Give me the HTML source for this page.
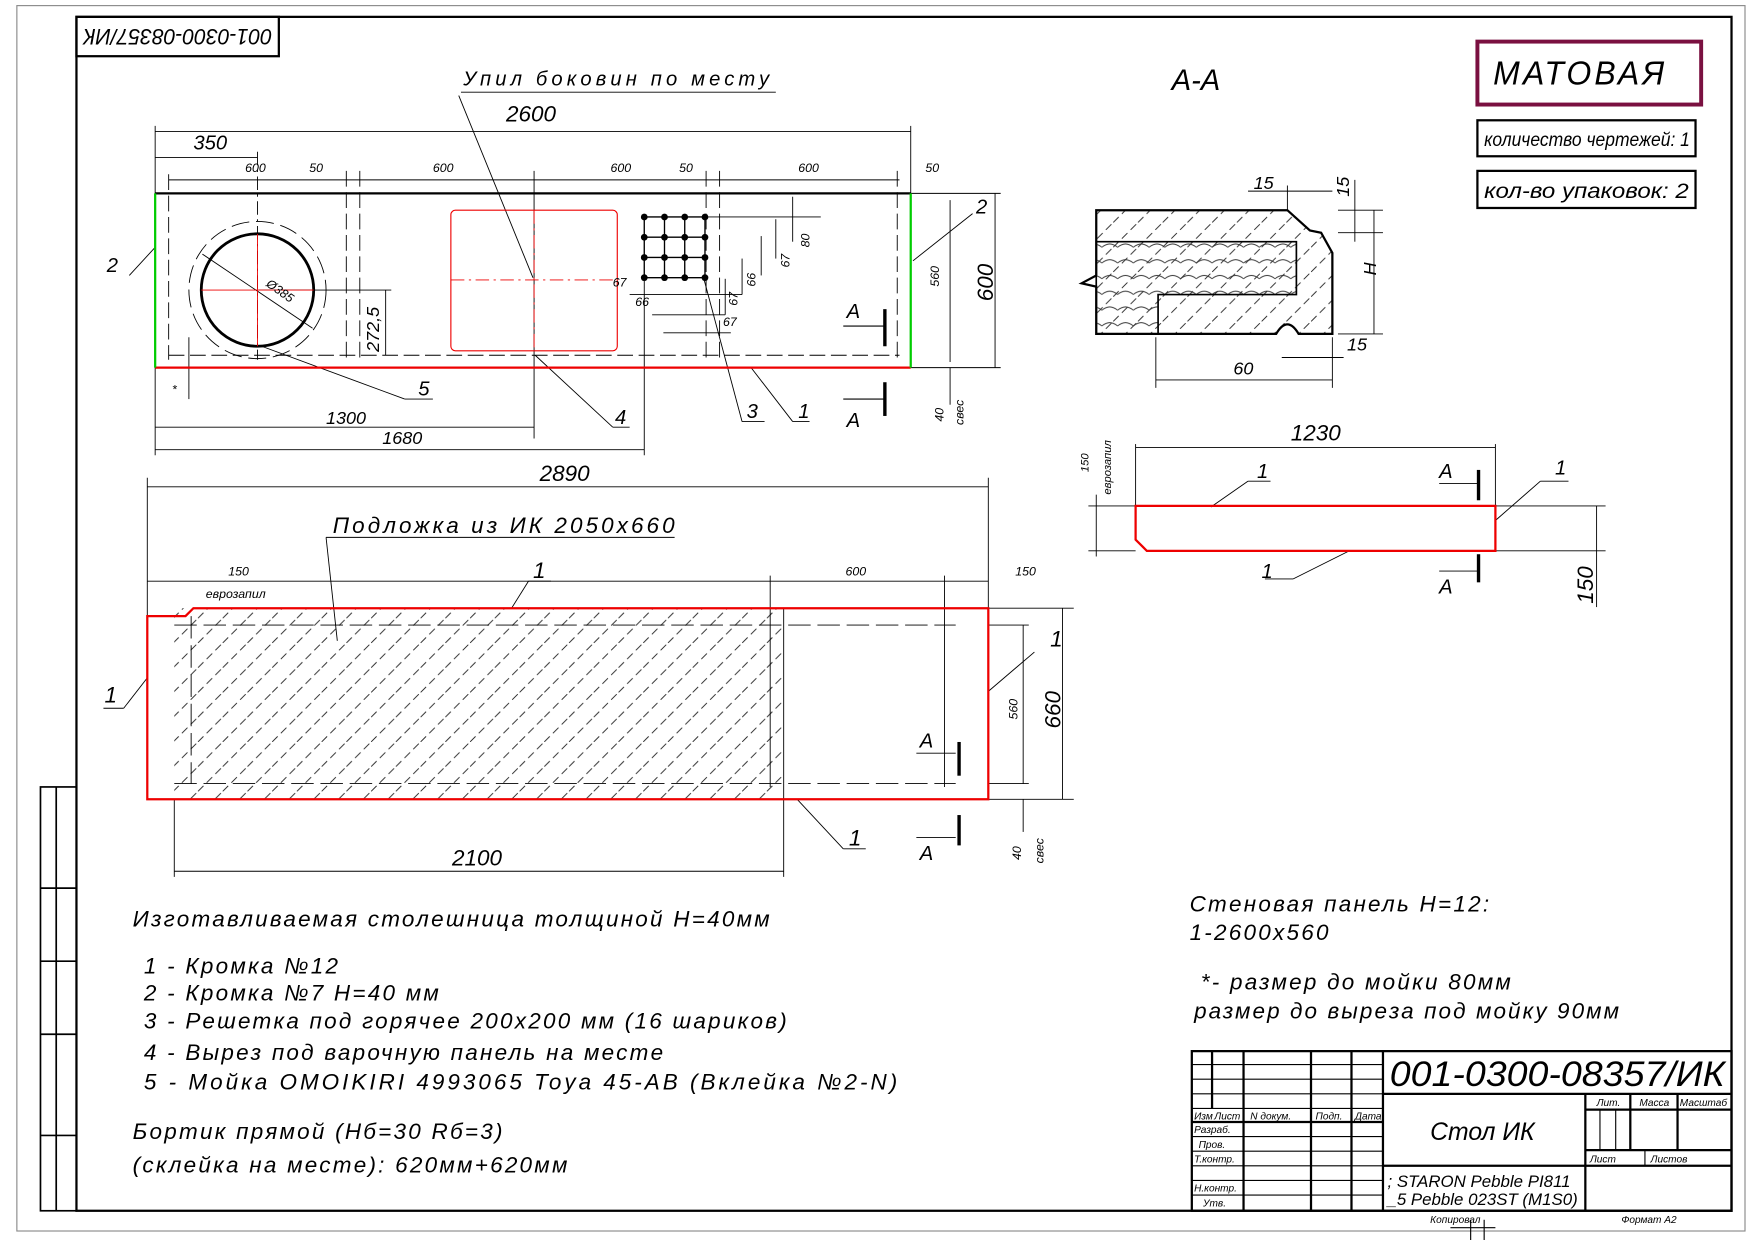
<!DOCTYPE html>
<html><head><meta charset="utf-8"><style>
html,body{margin:0;padding:0;background:#fff}
svg{display:block}
text{font-family:"Liberation Sans","DejaVu Sans",sans-serif;font-style:italic;fill:#000}
</style></head><body>
<svg width="1754" height="1240" viewBox="0 0 1560 1103" preserveAspectRatio="none" xmlns="http://www.w3.org/2000/svg">
<defs>
<pattern id="h" width="22" height="22" patternUnits="userSpaceOnUse">
<line x1="0" y1="22" x2="22" y2="0" stroke="#222" stroke-width="0.8" stroke-dasharray="7 4"/>
</pattern>
<pattern id="w" width="14" height="14" patternUnits="userSpaceOnUse">
<path d="M0 10 Q7 4 14 10" stroke="#333" fill="none" stroke-width="0.8"/>
</pattern>
</defs>
<rect width="1560" height="1103" fill="#fff"/>
<rect x="15" y="5" width="1537" height="1090" fill="none" stroke="#888" stroke-width="1"/>
<rect x="68" y="15" width="1472" height="1062" fill="none" stroke="#000" stroke-width="2"/>
<g stroke="#000" stroke-width="1.5" fill="none">
<rect x="36" y="700" width="32" height="377"/>
<line x1="50" y1="700" x2="50" y2="1077"/>
<line x1="36" y1="790" x2="68" y2="790"/><line x1="36" y1="855" x2="68" y2="855"/>
<line x1="36" y1="920" x2="68" y2="920"/><line x1="36" y1="1010" x2="68" y2="1010"/>
</g>
<rect x="68" y="15" width="180" height="35" fill="none" stroke="#000" stroke-width="2"/>
<text transform="rotate(180,158,33)" x="158" y="40" text-anchor="middle" font-size="20" textLength="168" lengthAdjust="spacingAndGlyphs">001-0300-08357/ИК</text>
<rect x="1314" y="37" width="199" height="56" fill="none" stroke="#7a1040" stroke-width="3.5"/>
<text x="1328" y="75" font-size="30" letter-spacing="3" textLength="155" lengthAdjust="spacingAndGlyphs">МАТОВАЯ</text>
<rect x="1314" y="107" width="194" height="32" fill="none" stroke="#000" stroke-width="2"/>
<text x="1320" y="130" font-size="17" textLength="183" lengthAdjust="spacingAndGlyphs">количество чертежей: 1</text>
<rect x="1314" y="152" width="194" height="33" fill="none" stroke="#000" stroke-width="2"/>
<text x="1320" y="176" font-size="19" textLength="182" lengthAdjust="spacingAndGlyphs">кол-во упаковок: 2</text>
<text x="1042" y="80" font-size="26">А-А</text>

<g stroke="#000" stroke-width="0.8" fill="none">
<line x1="138" y1="112" x2="138" y2="405"/><line x1="810" y1="112" x2="810" y2="172"/>
<line x1="138" y1="117" x2="810" y2="117"/>
<line x1="138" y1="140" x2="229" y2="140"/><line x1="229" y1="135" x2="229" y2="320" stroke-dasharray="12 4 2 4"/>
<line x1="150" y1="160" x2="800" y2="160"/>
<line x1="150" y1="155" x2="150" y2="320" stroke-dasharray="14 5"/>
<line x1="308" y1="152" x2="308" y2="320" stroke-dasharray="14 5"/><line x1="320" y1="152" x2="320" y2="320" stroke-dasharray="14 5"/>
<line x1="475" y1="152" x2="475" y2="390"/>
<line x1="628" y1="152" x2="628" y2="320" stroke-dasharray="14 5"/><line x1="640" y1="152" x2="640" y2="320" stroke-dasharray="14 5"/>
<line x1="798" y1="152" x2="798" y2="320" stroke-dasharray="14 5"/>
<line x1="150" y1="316" x2="800" y2="316" stroke-dasharray="14 5"/>
<line x1="810" y1="172" x2="890" y2="172"/><line x1="810" y1="327" x2="890" y2="327"/>
<line x1="885" y1="172" x2="885" y2="327"/><line x1="845" y1="178" x2="845" y2="322"/>
<line x1="845" y1="327" x2="845" y2="360"/>
<line x1="138" y1="380" x2="475" y2="380"/><line x1="138" y1="400" x2="573" y2="400"/>
<line x1="573" y1="247" x2="573" y2="405"/>
<line x1="168" y1="300" x2="168" y2="355"/>
<line x1="230" y1="258" x2="348" y2="258"/><line x1="343" y1="258" x2="343" y2="316"/>
<circle cx="229" cy="258" r="61" stroke-dasharray="16 6"/>
<line x1="180" y1="226" x2="278" y2="292"/>
<line x1="573" y1="193" x2="730" y2="193"/>
<line x1="705" y1="175" x2="705" y2="215"/><line x1="690" y1="195" x2="690" y2="230"/><line x1="677" y1="210" x2="677" y2="245"/>
<line x1="660" y1="230" x2="660" y2="262"/><line x1="645" y1="248" x2="645" y2="280"/>
<line x1="560" y1="262" x2="660" y2="262"/><line x1="580" y1="280" x2="645" y2="280"/>
<line x1="590" y1="296" x2="650" y2="296"/>
<line x1="408" y1="85" x2="474" y2="247"/><line x1="410" y1="82" x2="690" y2="82"/>
<line x1="138" y1="220" x2="115" y2="245"/><line x1="812" y1="232" x2="865" y2="190"/>
<line x1="230" y1="307" x2="360" y2="355"/><line x1="360" y1="355" x2="385" y2="355"/>
<line x1="476" y1="316" x2="545" y2="380"/><line x1="545" y1="380" x2="560" y2="380"/>
<line x1="626" y1="248" x2="660" y2="375"/><line x1="660" y1="375" x2="680" y2="375"/>
<line x1="668" y1="327" x2="705" y2="375"/><line x1="705" y1="375" x2="720" y2="375"/>
</g>
<line x1="138" y1="172" x2="810" y2="172" stroke="#000" stroke-width="2"/>
<line x1="138" y1="327" x2="810" y2="327" stroke="#e00" stroke-width="2"/>
<line x1="138" y1="172" x2="138" y2="327" stroke="#0c0" stroke-width="2"/>
<line x1="810" y1="172" x2="810" y2="327" stroke="#0c0" stroke-width="2"/>
<circle cx="229" cy="258" r="50" fill="none" stroke="#000" stroke-width="2.5"/>
<line x1="229" y1="208" x2="229" y2="308" stroke="#e00" stroke-width="0.8"/><line x1="179" y1="258" x2="279" y2="258" stroke="#e00" stroke-width="0.8"/>
<rect x="401" y="187" width="148" height="125" rx="4" fill="none" stroke="#e00" stroke-width="1"/>
<line x1="401" y1="249" x2="549" y2="249" stroke="#e00" stroke-width="0.8" stroke-dasharray="12 4 2 4"/>
<line x1="475" y1="187" x2="475" y2="312" stroke="#e00" stroke-width="0.8" stroke-dasharray="12 4 2 4"/>
<g stroke="#000" stroke-width="1.2">
<line x1="573" y1="193" x2="627" y2="193"/><line x1="573" y1="211" x2="627" y2="211"/><line x1="573" y1="229" x2="627" y2="229"/><line x1="573" y1="247" x2="627" y2="247"/>
<line x1="573" y1="193" x2="573" y2="247"/><line x1="591" y1="193" x2="591" y2="247"/><line x1="609" y1="193" x2="609" y2="247"/><line x1="627" y1="193" x2="627" y2="247"/>
</g>
<g fill="#000">
<circle cx="573" cy="193" r="3"/><circle cx="591" cy="193" r="3"/><circle cx="609" cy="193" r="3"/><circle cx="627" cy="193" r="3"/>
<circle cx="573" cy="211" r="3"/><circle cx="591" cy="211" r="3"/><circle cx="609" cy="211" r="3"/><circle cx="627" cy="211" r="3"/>
<circle cx="573" cy="229" r="3"/><circle cx="591" cy="229" r="3"/><circle cx="609" cy="229" r="3"/><circle cx="627" cy="229" r="3"/>
<circle cx="573" cy="247" r="3"/><circle cx="591" cy="247" r="3"/><circle cx="609" cy="247" r="3"/><circle cx="627" cy="247" r="3"/>
</g>
<g stroke="#000" stroke-width="3"><line x1="787" y1="275" x2="787" y2="308"/><line x1="787" y1="340" x2="787" y2="370"/></g>
<g stroke="#000" stroke-width="1"><line x1="750" y1="290" x2="787" y2="290"/><line x1="750" y1="355" x2="787" y2="355"/></g>
<g font-size="18">
<text x="412" y="76" textLength="272" lengthAdjust="spacing">Упил боковин по месту</text>
<text x="450" y="108" font-size="20">2600</text>
<text x="172" y="133">350</text>
<text x="95" y="242">2</text><text x="868" y="190">2</text>
<text x="372" y="352">5</text><text x="547" y="377">4</text><text x="664" y="372">3</text><text x="710" y="372">1</text>
<text x="290" y="377" font-size="16">1300</text><text x="340" y="395" font-size="16">1680</text>
<text x="753" y="283">А</text><text x="753" y="380">А</text>
</g>
<g font-size="11">
<text x="218" y="153">600</text><text x="275" y="153">50</text><text x="385" y="153">600</text><text x="543" y="153">600</text><text x="604" y="153">50</text><text x="710" y="153">600</text><text x="823" y="153">50</text>
<text x="545" y="255">67</text><text x="565" y="272">66</text><text x="643" y="290">67</text>
<text x="153" y="350">*</text>
<text transform="translate(720,220) rotate(-90)">80</text><text transform="translate(702,238) rotate(-90)">67</text><text transform="translate(672,255) rotate(-90)">66</text><text transform="translate(656,272) rotate(-90)">67</text>
<text transform="translate(835,255) rotate(-90)">560</text>
<text transform="translate(839,375) rotate(-90)">40</text><text transform="translate(857,378) rotate(-90)">свес</text>
<text transform="translate(236,254) rotate(35)">Ø385</text>
</g>
<text transform="translate(883,268) rotate(-90)" font-size="20">600</text>
<text transform="translate(337,313) rotate(-90)" font-size="16">272,5</text>

<path d="M975 187 L1145 187 L1165 205 L1175 207 L1185 225 L1185 297 L1155 297 Q1145 280 1135 297 L975 297 L975 255 L962 252 L975 245 Z" fill="url(#h)" stroke="#000" stroke-width="2"/>
<path d="M975 215 L1153 215 L1153 262 L1030 262 L1030 297 L975 297 Z" fill="url(#w)" stroke="#000" stroke-width="1.5"/>
<g stroke="#000" stroke-width="0.8" fill="none">
<line x1="1110" y1="170" x2="1185" y2="170"/><line x1="1145" y1="165" x2="1145" y2="187"/>
<line x1="1190" y1="187" x2="1230" y2="187"/><line x1="1190" y1="207" x2="1230" y2="207"/><line x1="1190" y1="297" x2="1230" y2="297"/>
<line x1="1205" y1="160" x2="1205" y2="215"/><line x1="1222" y1="187" x2="1222" y2="297"/>
<line x1="1140" y1="318" x2="1195" y2="318"/><line x1="1185" y1="300" x2="1185" y2="345"/>
<line x1="1028" y1="300" x2="1028" y2="345"/><line x1="1028" y1="338" x2="1185" y2="338"/>
</g>
<g font-size="16"><text x="1115" y="168">15</text><text x="1198" y="312">15</text><text x="1097" y="333">60</text>
<text transform="translate(1200,175) rotate(-90)">15</text><text transform="translate(1224,245) rotate(-90)">Н</text></g>

<g stroke="#000" stroke-width="0.8" fill="none">
<line x1="1010" y1="395" x2="1010" y2="450"/><line x1="1330" y1="395" x2="1330" y2="450"/><line x1="1010" y1="398" x2="1330" y2="398"/>
<line x1="968" y1="450" x2="1010" y2="450"/><line x1="968" y1="490" x2="1010" y2="490"/><line x1="975" y1="440" x2="975" y2="495"/>
<line x1="1330" y1="450" x2="1428" y2="450"/><line x1="1330" y1="490" x2="1428" y2="490"/><line x1="1420" y1="450" x2="1420" y2="540"/>
<line x1="1077" y1="451" x2="1110" y2="428"/><line x1="1110" y1="428" x2="1130" y2="428"/>
<line x1="1200" y1="490" x2="1150" y2="515"/><line x1="1125" y1="515" x2="1150" y2="515"/>
<line x1="1330" y1="463" x2="1370" y2="428"/><line x1="1370" y1="428" x2="1395" y2="428"/>
<line x1="1280" y1="430" x2="1315" y2="430"/><line x1="1280" y1="508" x2="1315" y2="508"/>
</g>
<path d="M1010 450 L1330 450 L1330 490 L1020 490 L1010 480 Z" fill="none" stroke="#e00" stroke-width="2"/>
<g stroke="#000" stroke-width="3"><line x1="1315" y1="418" x2="1315" y2="445"/><line x1="1315" y1="493" x2="1315" y2="518"/></g>
<g font-size="18"><text x="1148" y="392" font-size="20">1230</text><text x="1118" y="425">1</text><text x="1383" y="422">1</text><text x="1122" y="514">1</text>
<text x="1280" y="425">А</text><text x="1280" y="528">А</text>
<text transform="translate(1417,537) rotate(-90)" font-size="20">150</text></g>
<g font-size="10"><text transform="translate(968,420) rotate(-90)">150</text><text transform="translate(988,440) rotate(-90)">еврозапил</text></g>

<rect x="155" y="541" width="542" height="170" fill="url(#h)"/>
<g stroke="#000" stroke-width="0.8" fill="none">
<line x1="131" y1="425" x2="131" y2="548"/><line x1="879" y1="425" x2="879" y2="541"/><line x1="131" y1="433" x2="879" y2="433"/>
<line x1="131" y1="517" x2="879" y2="517"/><line x1="685" y1="512" x2="685" y2="700"/><line x1="840" y1="512" x2="840" y2="700"/>
<line x1="879" y1="541" x2="955" y2="541"/><line x1="879" y1="711" x2="955" y2="711"/><line x1="945" y1="541" x2="945" y2="711"/>
<line x1="879" y1="556" x2="915" y2="556"/><line x1="879" y1="697" x2="915" y2="697"/><line x1="910" y1="556" x2="910" y2="697"/>
<line x1="910" y1="711" x2="910" y2="740"/>
<line x1="155" y1="711" x2="155" y2="780"/><line x1="697" y1="711" x2="697" y2="780"/><line x1="155" y1="775" x2="697" y2="775"/>
<line x1="155" y1="556" x2="850" y2="556" stroke-dasharray="20 6"/><line x1="155" y1="697" x2="850" y2="697" stroke-dasharray="20 6"/>
<line x1="170" y1="548" x2="170" y2="697" stroke-dasharray="20 6"/><line x1="697" y1="541" x2="697" y2="711"/>
<line x1="290" y1="478" x2="300" y2="570"/><line x1="290" y1="478" x2="600" y2="478"/>
<line x1="455" y1="541" x2="470" y2="517"/><line x1="470" y1="517" x2="490" y2="517"/>
<line x1="131" y1="603" x2="110" y2="630"/><line x1="92" y1="630" x2="110" y2="630"/>
<line x1="879" y1="615" x2="920" y2="580"/>
<line x1="709" y1="711" x2="750" y2="755"/><line x1="750" y1="755" x2="770" y2="755"/>
<line x1="815" y1="670" x2="850" y2="670"/><line x1="815" y1="745" x2="850" y2="745"/>
</g>
<path d="M131 711 L131 548 L165 548 L172 541 L879 541 L879 711 Z" fill="none" stroke="#e00" stroke-width="2"/>
<g stroke="#000" stroke-width="3"><line x1="853" y1="660" x2="853" y2="690"/><line x1="853" y1="725" x2="853" y2="752"/></g>
<g font-size="20">
<text x="480" y="428">2890</text>
<text x="296" y="474" textLength="304" lengthAdjust="spacing">Подложка из ИК 2050х660</text>
<text x="474" y="514">1</text><text x="93" y="625">1</text><text x="934" y="575">1</text><text x="755" y="752">1</text>
<text x="402" y="770">2100</text>
<text x="818" y="665" font-size="18">А</text><text x="818" y="765" font-size="18">А</text>
<text transform="translate(943,648) rotate(-90)">660</text>
</g>
<g font-size="11"><text x="203" y="512">150</text><text x="183" y="532">еврозапил</text><text x="752" y="512">600</text><text x="903" y="512">150</text>
<text transform="translate(905,640) rotate(-90)">560</text><text transform="translate(908,765) rotate(-90)">40</text><text transform="translate(928,768) rotate(-90)">свес</text></g>

<g font-size="20" letter-spacing="2">
<text x="118" y="824">Изготавливаемая столешница толщиной Н=40мм</text>
<text x="128" y="866">1 - Кромка №12</text>
<text x="128" y="890">2 - Кромка №7 Н=40 мм</text>
<text x="128" y="915">3 - Решетка под горячее 200х200 мм (16 шариков)</text>
<text x="128" y="943">4 - Вырез под варочную панель на месте</text>
<text x="128" y="969" textLength="672" lengthAdjust="spacing">5 - Мойка OMOIKIRI 4993065 Toya 45-AB (Вклейка №2-N)</text>
<text x="118" y="1013">Бортик прямой (Нб=30 Rб=3)</text>
<text x="118" y="1043">(склейка на месте): 620мм+620мм</text>
<text x="1058" y="811">Стеновая панель Н=12:</text>
<text x="1058" y="836">1-2600х560</text>
<text x="1068" y="880">*- размер до мойки 80мм</text>
<text x="1062" y="906" textLength="380" lengthAdjust="spacing">размер до выреза под мойку 90мм</text>
</g>

<g stroke="#000" stroke-width="2" fill="none">
<rect x="1060" y="935" width="480" height="142"/>
<line x1="1230" y1="935" x2="1230" y2="1077"/>
<line x1="1230" y1="973" x2="1540" y2="973"/>
<line x1="1230" y1="1037" x2="1540" y2="1037"/>
<line x1="1410" y1="973" x2="1410" y2="1077"/>
<line x1="1410" y1="987" x2="1540" y2="987"/><line x1="1410" y1="1023" x2="1540" y2="1023"/>
<line x1="1450" y1="973" x2="1450" y2="1023"/><line x1="1492" y1="973" x2="1492" y2="1023"/>
<line x1="1078" y1="935" x2="1078" y2="986"/><line x1="1106" y1="935" x2="1106" y2="1077"/><line x1="1166" y1="935" x2="1166" y2="1077"/><line x1="1202" y1="935" x2="1202" y2="1077"/>
<line x1="1060" y1="998" x2="1230" y2="998"/>
</g>
<g stroke="#000" stroke-width="1" fill="none">
<line x1="1060" y1="947" x2="1230" y2="947"/><line x1="1060" y1="960" x2="1230" y2="960"/><line x1="1060" y1="973" x2="1230" y2="973"/><line x1="1060" y1="986" x2="1230" y2="986"/>
<line x1="1060" y1="1011" x2="1230" y2="1011"/><line x1="1060" y1="1024" x2="1230" y2="1024"/><line x1="1060" y1="1037" x2="1230" y2="1037"/><line x1="1060" y1="1050" x2="1230" y2="1050"/><line x1="1060" y1="1063" x2="1230" y2="1063"/>
<line x1="1423" y1="987" x2="1423" y2="1023"/><line x1="1437" y1="987" x2="1437" y2="1023"/><line x1="1463" y1="1023" x2="1463" y2="1037"/>
<line x1="1290" y1="1092" x2="1330" y2="1092"/><line x1="1308" y1="1085" x2="1308" y2="1103"/><line x1="1320" y1="1085" x2="1320" y2="1103"/>
</g>
<text x="1236" y="966" font-size="31" textLength="298" lengthAdjust="spacingAndGlyphs">001-0300-08357/ИК</text>
<text x="1272" y="1014" font-size="22">Стол ИК</text>
<text x="1234" y="1056" font-size="15">; STARON Pebble PI811</text>
<text x="1234" y="1072" font-size="15">_5 Pebble 023ST (M1S0)</text>
<g font-size="9"><text x="1420" y="984">Лит.</text><text x="1458" y="984">Масса</text><text x="1494" y="984">Масштаб</text>
<text x="1414" y="1034">Лист</text><text x="1468" y="1034">Листов</text>
<text x="1062" y="996">Изм</text><text x="1080" y="996">Лист</text><text x="1112" y="996">N докум.</text><text x="1170" y="996">Подп.</text><text x="1205" y="996">Дата</text>
<text x="1062" y="1008">Разраб.</text><text x="1066" y="1021">Пров.</text><text x="1062" y="1034">Т.контр.</text><text x="1062" y="1060">Н.контр.</text><text x="1070" y="1073">Утв.</text>
<text x="1272" y="1088">Копировал</text><text x="1442" y="1088">Формат А2</text></g>
</svg>
</body></html>
